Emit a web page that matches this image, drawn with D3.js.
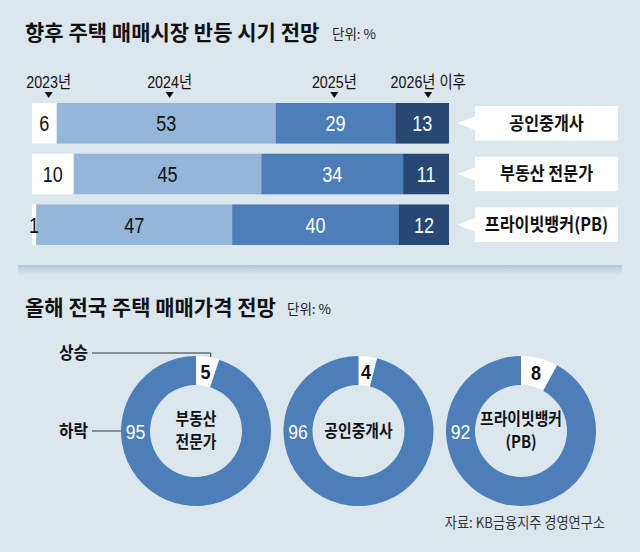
<!DOCTYPE html>
<html>
<head>
<meta charset="utf-8">
<script src="https://cdn.jsdelivr.net/npm/d3@7"></script>
<style>
  body { margin: 0; background: #dce6ed; }
  svg { display: block; }
</style>
</head>
<body>
<svg width="640" height="552"></svg>
<script>
// 향후 주택 매매시장 반등 시기 전망 (단위: %)
const years = ["2023년", "2024년", "2025년", "2026년 이후"];
const groups = ["공인중개사", "부동산 전문가", "프라이빗뱅커(PB)"];
const timingBroker = [6, 53, 29, 13];
const timingExpert = [10, 45, 34, 11];
const timingPB = [1, 47, 40, 12];
const yearMarks = [4, 33, 72.5, 95]; // marker spots on the 0-100 axis

// 올해 전국 주택 매매가격 전망 (단위: %)
const priceGroups = [["부동산", "전문가"], ["공인중개사"], ["프라이빗뱅커", "(PB)"]];
const priceUp = [5, 4, 8];
const priceDown = [95, 96, 92];

const KR = "'Noto Sans CJK KR', 'Noto Sans', sans-serif";
const NUM = "'Liberation Sans', 'Noto Sans CJK KR', sans-serif";
const segFill = ["#ffffff", "#94b6d8", "#4c7eba", "#284874"];
const segText = ["#111", "#111", "#fff", "#fff"];
const ringColor = "#4c7eba";

const svg = d3.select("svg");
const rows = [timingBroker, timingExpert, timingPB];

// squeezed text, like the paper's condensed face
function narrow(parent, x, y, txt, size, opt = {}) {
  const g = parent.append("g")
    .attr("transform", `translate(${x},${y}) scale(${opt.sx || 0.82},1)`);
  return g.append("text")
    .attr("dy", "0.36em")
    .attr("text-anchor", opt.anchor || "middle")
    .attr("font-family", opt.family || NUM)
    .attr("font-weight", opt.weight || 400)
    .attr("font-size", size)
    .attr("fill", opt.fill || "#111")
    .text(txt);
}

// titles
function title(y, main, unitX) {
  svg.append("text").attr("x", 25).attr("y", y)
    .attr("font-family", KR).attr("font-weight", 700).attr("font-size", 21)
    .attr("fill", "#111").text(main);
  svg.append("text").attr("x", unitX).attr("y", y - 1)
    .attr("font-family", KR).attr("font-size", 13.5)
    .attr("fill", "#222").text("단위: %");
}
title(40, "향후 주택 매매시장 반등 시기 전망", 332);
title(315, "올해 전국 주택 매매가격 전망", 287);

// ---- stacked bars
const x0 = 32, x1 = 449;
const axis = d3.scaleLinear().domain([0, 100]).range([x0, x1]);
const y = d3.scaleBand().domain(groups).range([103, 245]).paddingInner(0.2);

const marks = svg.append("g");
years.forEach((yr, i) => {
  const mx = axis(yearMarks[i]);
  narrow(marks, mx, 82, yr, 17, { sx: 0.84 });
  marks.append("path")
    .attr("d", `M${mx - 4},92L${mx + 4},92L${mx},98Z`)
    .attr("fill", "#111");
});

groups.forEach((g, r) => {
  const row = rows[r];
  const xs = d3.scaleLinear().domain([0, d3.sum(row)]).range([x0, x1]);
  const starts = d3.cumsum([0].concat(row.slice(0, -1)));
  const gy = y(g), bw = y.bandwidth(), cy = gy + bw / 2;
  const gRow = svg.append("g");

  gRow.selectAll("rect")
    .data(row)
    .join("rect")
    .attr("x", (d, i) => xs(starts[i]))
    .attr("width", (d, i) => xs(starts[i] + d) - xs(starts[i]))
    .attr("y", gy)
    .attr("height", bw)
    .attr("fill", (d, i) => segFill[i]);

  row.forEach((d, i) => {
    narrow(gRow, xs(starts[i] + d / 2), cy, d, 22, { fill: segText[i] });
  });

  // name tag with pointer
  gRow.append("rect").attr("x", 475).attr("y", gy + 3)
    .attr("width", 143).attr("height", bw - 6).attr("fill", "#fff");
  gRow.append("path")
    .attr("d", `M475.5,${cy - 7}L457,${cy}L475.5,${cy + 7}Z`)
    .attr("fill", "#fff");
  narrow(gRow, 546.5, cy, g, 18, { family: KR, weight: 700, sx: 0.9 });
});

// separator band
const defs = svg.append("defs");
const grad = defs.append("linearGradient").attr("id", "sep")
  .attr("x1", 0).attr("x2", 0).attr("y1", 0).attr("y2", 1);
grad.append("stop").attr("offset", "0%").attr("stop-color", "#b3c7d6");
grad.append("stop").attr("offset", "100%").attr("stop-color", "#dce6ed");
svg.append("rect").attr("x", 18).attr("y", 265).attr("width", 604).attr("height", 10)
  .attr("fill", "url(#sep)");

// ---- donuts
const R = 75, r0 = 46, cyD = 431;
const cx = d3.scalePoint().domain(d3.range(priceGroups.length)).range([196, 521]);
const pie = d3.pie().sort(null);
const arc = d3.arc().innerRadius(r0).outerRadius(R);
const rMid = (R + r0) / 2;

priceGroups.forEach((lines, i) => {
  const g = svg.append("g").attr("transform", `translate(${cx(i)},${cyD})`);
  const arcs = pie([priceUp[i], priceDown[i]]);
  g.selectAll("path")
    .data(arcs)
    .join("path")
    .attr("d", arc)
    .attr("fill", (d, k) => k === 0 ? "#fff" : ringColor);

  const c = arc.centroid(arcs[0]);
  narrow(g, c[0], c[1], priceUp[i], 21, { weight: 700, sx: 0.86 });
  narrow(g, -rMid, 0, priceDown[i], 21, { fill: "#fff", sx: 0.84 });

  const lh = 23, top = -(lines.length - 1) * lh / 2;
  lines.forEach((ln, k) => {
    narrow(g, 0, top + k * lh, ln, 16.5, { family: KR, weight: 700, sx: 0.9 });
  });

  if (i === 0) {
    // legend leaders on the first donut
    const a = (arcs[0].startAngle + arcs[0].endAngle) / 2;
    const ux = R * Math.sin(a) + 3, uy = -R * Math.cos(a);
    const ly = -78;
    g.append("path")
      .attr("d", `M${92 - cx(i)},${ly}H${ux}V${uy}`)
      .attr("fill", "none").attr("stroke", "#333").attr("stroke-width", 1);
    g.append("path")
      .attr("d", `M${92 - cx(i)},0H${-R}`)
      .attr("fill", "none").attr("stroke", "#333").attr("stroke-width", 1);
    [["상승", ly], ["하락", 0]].forEach(([t, yy]) => {
      narrow(g, 88 - cx(i), yy, t, 17.5, { family: KR, weight: 700, sx: 0.9, anchor: "end" });
    });
  }
});

// source
narrow(svg, 605, 523, "자료: KB금융지주 경영연구소", 15, { family: KR, anchor: "end", sx: 0.88, fill: "#333" });
</script>
</body>
</html>
